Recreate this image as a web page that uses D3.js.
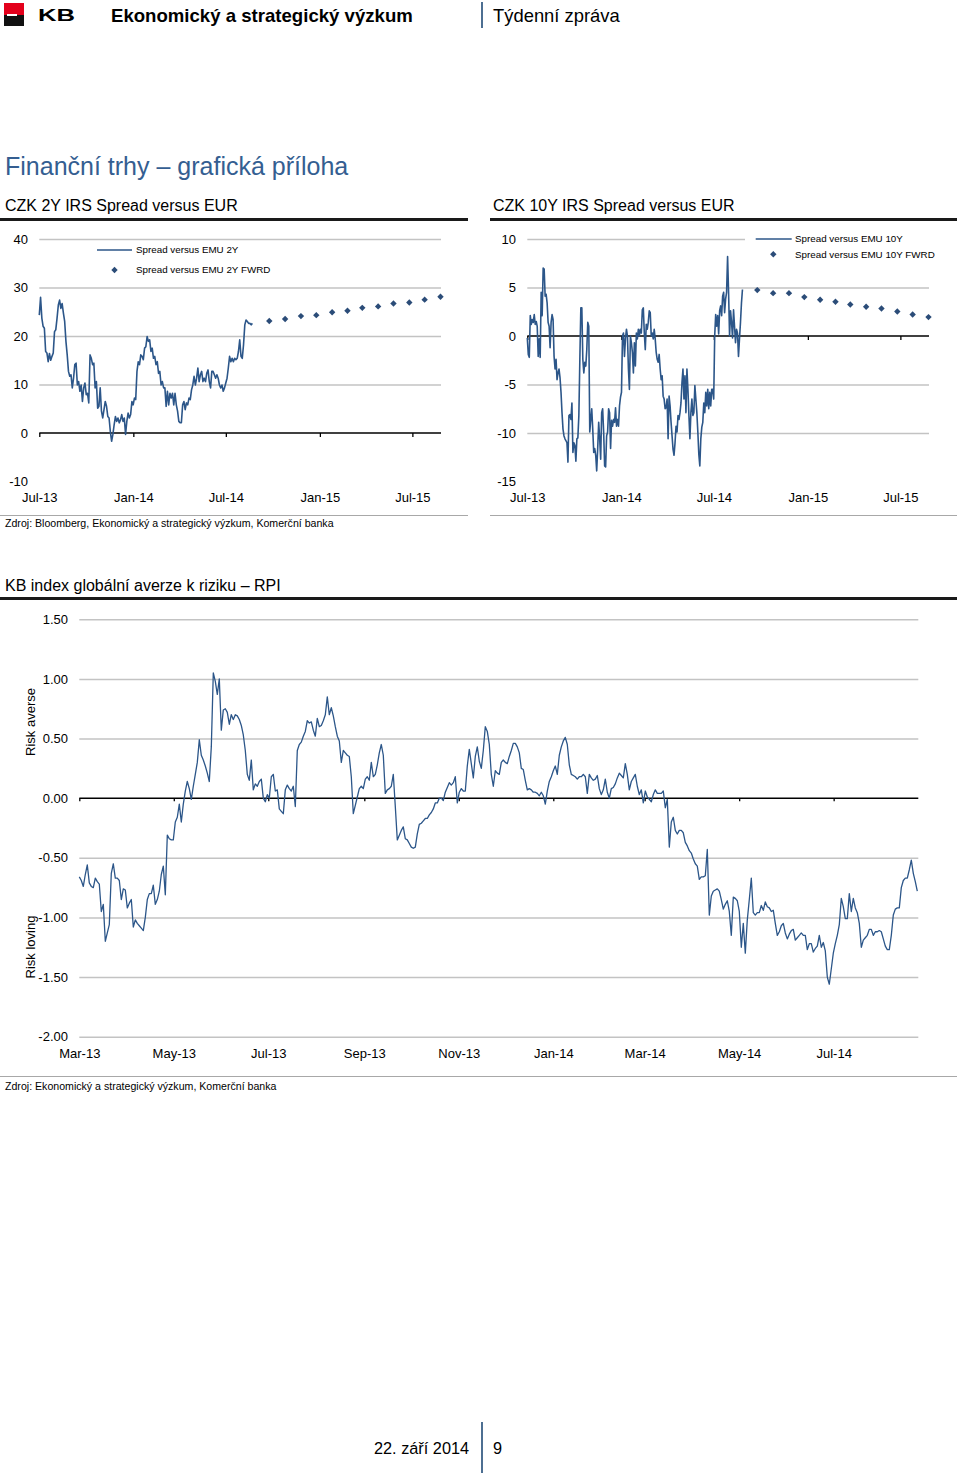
<!DOCTYPE html>
<html><head><meta charset="utf-8">
<script src="https://cdn.jsdelivr.net/npm/d3@7"></script>
<style>
body{margin:0;background:#fff;}
svg{display:block;font-family:"Liberation Sans",Arial,Helvetica,sans-serif;}
</style></head><body>
<svg id="page" width="960" height="1475"></svg>
<script>
// ---------- DATA ----------
const spread2Y = [24.3,28.0,23.7,22.0,21.6,16.8,16.5,14.7,16.4,15.0,
15.8,16.5,20.9,21.3,23.7,26.4,27.4,25.7,26.7,24.7,
23.0,18.9,16.1,12.7,11.7,12.0,9.3,11.3,14.1,14.4,
9.9,10.6,8.6,9.9,6.5,9.3,10.3,7.9,8.2,6.2,
16.1,15.4,14.1,14.4,9.3,10.6,5.1,5.5,9.3,4.5,
3.1,4.8,6.5,5.5,3.4,3.1,0.3,-1.7,-0.3,1.7,
3.4,2.4,3.1,2.1,2.7,3.8,2.4,3.1,-0.3,2.4,
4.1,3.1,3.8,6.5,5.8,7.2,6.9,12.7,14.7,14.1,
16.1,15.8,15.1,17.5,17.8,19.9,18.9,19.2,16.8,17.5,
15.4,15.8,14.1,14.7,12.3,12.7,9.9,10.6,9.3,9.3,
5.5,8.6,5.8,8.2,7.2,8.2,5.8,8.2,5.8,4.5,
2.4,2.1,2.1,5.8,6.5,4.8,6.2,5.8,7.2,6.9,
8.9,9.9,11.7,9.9,11.3,13.4,10.6,12.0,12.7,10.6,
11.3,10.6,12.3,13.0,10.6,9.3,12.7,12.7,12.0,11.3,
12.0,11.3,9.9,9.3,9.9,8.6,9.3,10.3,11.3,13.4,
15.8,14.7,15.4,14.7,15.4,15.1,15.4,16.8,19.2,15.8,
15.4,18.2,22.3,23.3,23.0,22.6,22.6,22.3,22.6];
const spread2YPeriod = ["2013-07-01","2014-08-22"];

const spread10Y = [-0.2,-1.9,-2.2,2.1,1.2,1.7,1.4,2.2,1.2,1.5,1.0,-2.1,-0.3,-2.2,4.5,2.1,7.0,6.9,4.1,4.3,
3.4,1.4,1.0,-1.2,1.4,2.2,1.7,-2.1,-3.4,-2.4,-4.5,-3.8,-3.4,-4.3,-5.8,-7.9,-9.6,-10.3,-10.6,-10.8,
-11.0,-13.0,-8.2,-8.1,-8.6,-6.9,-12.0,-11.0,-11.3,-12.9,-10.6,-10.5,-8.2,-2.4,2.9,2.9,-2.4,-3.8,-2.7,-3.1,
-1.4,1.4,1.0,-9.9,-8.6,-7.5,-9.6,-12.0,-11.6,-12.3,-13.9,-11.6,-8.9,-10.6,-12.7,-7.9,-7.5,-9.9,-13.4,-13.5,
-10.3,-9.9,-7.5,-7.9,-11.6,-8.7,-9.3,-8.6,-8.9,-7.4,-9.3,-8.6,-9.3,-7.2,-6.3,-5.8,0,0.3,-2.1,-0.3,
0.7,0,-3.4,-5.5,0,-0.7,-1.7,-3.8,-0.7,-3.1,0.3,-0.3,0.7,0,0.7,0.3,2.7,2.9,0.3,-1.4,
1.2,0.7,1.4,2.6,2.4,0,0.3,-0.3,0.7,-0.3,-1.7,-2.4,-2.7,-1.9,-3.4,-4.5,-4.1,-6.2,-6.5,-7.5,
-7.4,-6.5,-10.6,-6.2,-7.2,-8.9,-10.3,-11.7,-12.3,-11.0,-9.3,-9.9,-8.2,-8.6,-7.9,-6.9,-4.8,-3.4,-6.5,-4.1,
-7.9,-3.4,-5.5,-8.2,-10.6,-7.9,-6.5,-8.2,-7.9,-5.1,-6.5,-7.9,-9.9,-12.2,-13.4,-10.6,-9.4,-8.9,-6.9,-7.9,
-5.8,-7.2,-5.5,-7.5,-5.8,-7.2,-5.5,-5.5,-6.5,0,2.2,1.0,2.1,0.2,2.6,3.1,2.1,4.1,4.5,2.4,
3.8,4.5,8.2,4.5,0,2.6,1.4,-0.2,2.7,1.0,-0.7,0.7,0.3,-2.1,-0.3,1.4,3.4,4.8];
const spread10YPeriod = ["2013-07-01","2014-08-26"];

const fwrdDates = ["2014-09-24","2014-10-25","2014-11-25","2014-12-25","2015-01-25","2015-02-24",
"2015-03-25","2015-04-25","2015-05-25","2015-06-25","2015-07-25","2015-08-25"];
const fwrd2Y = [23.1,23.5,24.1,24.3,24.9,25.2,25.8,26.1,26.7,26.9,27.5,28.1];
const fwrd10Y = [4.73,4.42,4.42,4.01,3.73,3.53,3.25,3.01,2.84,2.53,2.22,1.95];

const spreadTickDates = ["2013-07-01","2014-01-01","2014-07-01","2015-01-01","2015-07-01"];
const spreadTickLabels = ["Jul-13","Jan-14","Jul-14","Jan-15","Jul-15"];
const spreadDomain = ["2013-07-01","2015-08-26"];
const yTicks2Y = [-10,0,10,20,30,40];
const yTicks10Y = [-15,-10,-5,0,5,10];

const rpiValues = [
-0.66,-0.69,-0.74,-0.64,-0.56,-0.71,-0.74,-0.75,-0.67,-0.70,
-0.72,-0.95,-0.89,-1.20,-1.13,-1.06,-0.63,-0.55,-0.67,-0.67,
-0.69,-0.85,-0.76,-0.77,-0.92,-0.88,-0.85,-1.08,-1.02,-1.05,
-1.07,-1.09,-1.11,-1.00,-0.85,-0.80,-0.80,-0.73,-0.89,-0.85,
-0.78,-0.64,-0.57,-0.81,-0.31,-0.34,-0.35,-0.35,-0.20,-0.16,
-0.05,-0.20,-0.05,0.06,0.14,0.08,-0.01,0.10,0.20,0.30,
0.49,0.36,0.32,0.27,0.21,0.14,0.43,1.05,0.98,0.87,
1.00,0.57,0.74,0.75,0.72,0.62,0.70,0.66,0.70,0.69,
0.66,0.61,0.53,0.40,0.20,0.15,0.32,0.07,0.12,0.10,
0.14,0.16,0.00,-0.03,0.03,0.00,0.18,0.20,0.06,0.07,
-0.09,-0.11,-0.13,0.07,0.11,0.08,0.06,0.10,-0.07,0.40,
0.45,0.47,0.52,0.56,0.65,0.63,
0.64,0.57,0.52,0.67,0.60,0.61,0.65,0.70,0.85,0.70,
0.76,0.69,0.60,0.52,0.48,0.30,0.40,0.38,0.36,0.35,
0.18,-0.13,-0.06,0.01,0.08,0.10,0.08,0.16,0.18,0.15,
0.30,0.18,0.20,0.28,0.38,0.45,0.36,0.04,0.07,0.08,
0.10,0.20,-0.07,-0.35,-0.31,-0.27,-0.24,-0.34,-0.35,-0.38,
-0.41,-0.42,-0.41,-0.30,-0.22,-0.21,-0.19,-0.17,-0.17,-0.14,
-0.12,-0.09,-0.04,-0.04,0.00,0.00,-0.02,0.05,0.09,0.13,
0.11,0.13,0.18,-0.04,0.05,0.08,0.06,0.06,0.27,0.41,
0.29,0.17,0.35,0.43,0.31,0.25,0.40,0.60,0.56,0.45,
0.20,0.10,0.23,0.21,0.20,0.30,0.32,0.30,0.29,0.35,
0.40,0.46,0.46,0.43,0.38,0.25,0.24,0.15,0.07,0.08,
0.07,0.05,0.05,0.04,0.02,0.05,0.02,-0.05,0.06,0.14,
0.18,0.23,0.27,0.20,0.36,0.43,0.48,0.51,0.45,0.28,
0.20,0.19,0.18,0.16,0.18,0.18,0.20,0.18,0.04,0.20,
0.17,0.15,0.16,0.19,0.08,0.03,0.07,0.16,0.05,0.00,
0.08,0.09,0.12,0.17,0.21,
0.19,0.17,0.29,0.20,0.07,0.14,0.17,0.20,0.10,0.03,
0.07,-0.04,0.06,0.01,-0.01,-0.03,0.03,0.07,0.04,0.04,
0.04,0.06,-0.08,-0.01,-0.41,-0.20,-0.16,-0.27,-0.30,-0.27,
-0.27,-0.29,-0.37,-0.40,-0.44,-0.46,-0.51,-0.55,-0.57,-0.68,
-0.66,-0.66,-0.65,-0.43,-0.98,-0.82,-0.78,-0.77,-0.76,-0.78,
-0.85,-0.93,-0.89,-0.86,-0.95,-1.15,-0.83,-0.84,-0.86,-0.95,
-1.25,-1.05,-1.30,-1.02,-0.85,-0.67,-0.96,-0.98,-0.96,-0.96,
-0.90,-0.94,-0.87,-0.91,-0.92,-0.95,-0.94,-1.05,-1.15,-1.12,
-1.07,-1.05,-1.13,-1.18,-1.14,-1.11,-1.10,-1.19,-1.17,-1.15,
-1.13,-1.15,-1.15,-1.27,-1.22,-1.22,-1.29,-1.26,-1.24,-1.15,
-1.25,-1.21,-1.28,-1.50,-1.56,-1.43,-1.30,-1.22,-1.15,-1.06,
-0.84,-0.91,-1.01,-1.01,-0.80,-0.95,-0.84,-0.92,-0.96,-1.05,
-1.25,-1.19,-1.17,-1.15,-1.10,-1.10,-1.15,-1.12,-1.12,-1.11,
-1.12,-1.18,-1.24,-1.27,-1.27,-1.15,-0.98,-0.93,-0.92,-0.92,
-0.75,-0.69,-0.67,-0.67,-0.60,-0.52,-0.63,-0.70,-0.78];
const rpiPeriod = ["2013-03-01","2014-08-24"];
const rpiTickDates = ["2013-03-01","2013-05-01","2013-07-01","2013-09-01","2013-11-01","2014-01-01","2014-03-01","2014-05-01","2014-07-01"];
const rpiTickLabels = ["Mar-13","May-13","Jul-13","Sep-13","Nov-13","Jan-14","Mar-14","May-14","Jul-14"];
const rpiYTicks = [-2.0,-1.5,-1.0,-0.5,0.0,0.5,1.0,1.5];

// ---------- DRAW ----------
const parse = d3.utcParse("%Y-%m-%d");
const loc = d3.formatLocale({decimal:".", thousands:",", grouping:[3], currency:["",""], minus:"-"});
const svg = d3.select("#page");
const LINE = "#2c5689", MARK = "#2b4c78", GRID = "#c3c3c3";

function seriesPoints(vals, period){
  const t = d3.scaleLinear().domain([0, vals.length-1]).range([+parse(period[0]), +parse(period[1])]);
  return vals.map((v,i)=>({d:new Date(t(i)), v}));
}

// header
const hdr = svg.append("g");
hdr.append("rect").attr("x",4).attr("y",3).attr("width",20).attr("height",12).attr("fill","#e3001b");
hdr.append("rect").attr("x",4).attr("y",15).attr("width",20).attr("height",11).attr("fill","#111");
hdr.append("rect").attr("x",7).attr("y",14).attr("width",10).attr("height",2).attr("fill","#fff");
hdr.append("text").attr("x",38).attr("y",21).attr("font-size",16).attr("font-weight","bold")
  .attr("textLength",37).attr("lengthAdjust","spacingAndGlyphs").text("KB");
hdr.append("text").attr("x",111).attr("y",22).attr("font-size",18.6).attr("font-weight","bold").text("Ekonomický a strategický výzkum");
hdr.append("line").attr("x1",482).attr("x2",482).attr("y1",2).attr("y2",28).attr("stroke","#4d6f92").attr("stroke-width",2);
hdr.append("text").attr("x",493).attr("y",22).attr("font-size",18.4).text("Týdenní zpráva");

svg.append("text").attr("x",5).attr("y",175).attr("font-size",25).attr("fill","#345e91").text("Finanční trhy – grafická příloha");

function titleBlock(x, y, text, x1, x2, ruleY){
  svg.append("text").attr("x",x).attr("y",y).attr("font-size",16).attr("fill","#000").text(text);
  svg.append("line").attr("x1",x1).attr("x2",x2).attr("y1",ruleY).attr("y2",ruleY).attr("stroke","#1a1a1a").attr("stroke-width",3);
}
titleBlock(5, 211, "CZK 2Y IRS Spread versus EUR", 0, 468, 219.5);
titleBlock(493, 211, "CZK 10Y IRS Spread versus EUR", 490, 957, 219.5);

function smallChart(cfg){
  const g = svg.append("g");
  const x = d3.scaleUtc().domain(spreadDomain.map(parse)).range([cfg.x0, cfg.x1]);
  const y = d3.scaleLinear().domain([cfg.yTicks[0], cfg.yTicks[cfg.yTicks.length-1]]).range([481.5, 239]);
  const ya = g.append("g").attr("transform",`translate(${cfg.x0},0)`)
    .call(d3.axisLeft(y).tickValues(cfg.yTicks).tickSize(-(cfg.x1-cfg.x0)).tickPadding(cfg.x0-cfg.labelX).tickFormat(loc.format("d")));
  ya.select(".domain").remove();
  ya.selectAll(".tick line").attr("stroke",GRID).attr("stroke-width",1.4)
    .attr("display", d => (d===0 || d===cfg.yTicks[0]) ? "none" : null);
  ya.selectAll(".tick text").attr("font-size",13).attr("fill","#000").attr("font-family",null);
  if (cfg.legendMask) g.append("rect").attr("x",cfg.legendMask[0]).attr("y",cfg.legendMask[1]).attr("width",cfg.legendMask[2]).attr("height",cfg.legendMask[3]).attr("fill","#fff");
  g.append("line").attr("x1",cfg.x0).attr("x2",cfg.x1).attr("y1",y(0)).attr("y2",y(0)).attr("stroke","#000").attr("stroke-width",1.6);
  const xt = g.append("g").attr("transform",`translate(0,${y(0)})`)
    .call(d3.axisBottom(x).tickValues(spreadTickDates.map(parse)).tickSize(4).tickFormat(""));
  xt.select(".domain").remove();
  xt.selectAll(".tick line").attr("stroke","#000").attr("stroke-width",1.3);
  const xl = g.append("g").attr("transform",`translate(0,497)`)
    .call(d3.axisBottom(x).tickValues(spreadTickDates.map(parse)).tickSize(0).tickPadding(0).tickFormat((d,i)=>spreadTickLabels[i]));
  xl.select(".domain").remove();
  xl.selectAll(".tick text").attr("dy","0.35em").attr("y",0).attr("font-size",13).attr("fill","#000").attr("font-family",null);
  const pts = seriesPoints(cfg.values, cfg.period);
  g.append("path").datum(pts).attr("fill","none").attr("stroke",LINE).attr("stroke-width",1.6).attr("stroke-linejoin","round")
    .attr("d", d3.line().x(p=>x(p.d)).y(p=>y(p.v)));
  const diamond = "M0,-3.2L3.2,0L0,3.2L-3.2,0Z";
  g.selectAll("path.fw").data(fwrdDates.map((d,i)=>({d:parse(d), v:cfg.fwrd[i]}))).enter().append("path")
    .attr("class","fw").attr("d",diamond).attr("fill",MARK)
    .attr("transform",p=>`translate(${x(p.d)},${y(p.v)})`);
  const L = cfg.legend;
  g.append("line").attr("x1",L.lx1).attr("x2",L.lx2).attr("y1",L.y1).attr("y2",L.y1).attr("stroke",LINE).attr("stroke-width",1.6);
  g.append("text").attr("x",L.tx).attr("y",L.y1).attr("dy","0.35em").attr("font-size",9.8).text(L.t1);
  g.append("path").attr("d",diamond).attr("fill",MARK).attr("transform",`translate(${L.mx},${L.y2})`);
  g.append("text").attr("x",L.tx).attr("y",L.y2).attr("dy","0.35em").attr("font-size",9.8).text(L.t2);
}

smallChart({x0:39.3, x1:441, labelX:28, yTicks:yTicks2Y, values:spread2Y, period:spread2YPeriod, fwrd:fwrd2Y,
  legend:{lx1:97, lx2:132, y1:250, tx:136, mx:114.5, y2:270, t1:"Spread versus EMU 2Y", t2:"Spread versus EMU 2Y FWRD"}});
smallChart({x0:527.3, x1:929, labelX:516, yTicks:yTicks10Y, values:spread10Y, period:spread10YPeriod, fwrd:fwrd10Y,
  legendMask:[745,231,215,31],
  legend:{lx1:755.7, lx2:791.7, y1:239, tx:795, mx:773.3, y2:254.3, t1:"Spread versus EMU 10Y", t2:"Spread versus EMU 10Y FWRD"}});

svg.append("line").attr("x1",0).attr("x2",468).attr("y1",515.5).attr("y2",515.5).attr("stroke","#a8a8a8").attr("stroke-width",1.2);
svg.append("line").attr("x1",490).attr("x2",957).attr("y1",515.5).attr("y2",515.5).attr("stroke","#a8a8a8").attr("stroke-width",1.2);
svg.append("text").attr("x",5).attr("y",523).attr("dy","0.35em").attr("font-size",10.6).text("Zdroj: Bloomberg, Ekonomický a strategický výzkum, Komerční banka");

// RPI
titleBlock(5, 591, "KB index globální averze k riziku – RPI", 0, 957, 598.5);
(function(){
  const g = svg.append("g");
  const x0 = 79.3, x1 = 918.3;
  const x = d3.scaleUtc().domain(rpiPeriod.map(parse)).range([x0, 917.3]);
  const y = d3.scaleLinear().domain([-2, 1.5]).range([1036.7, 619.3]);
  const ya = g.append("g").attr("transform",`translate(${x0},0)`)
    .call(d3.axisLeft(y).tickValues(rpiYTicks).tickSize(-(x1-x0)).tickPadding(x0-68).tickFormat(loc.format(".2f")));
  ya.select(".domain").remove();
  ya.selectAll(".tick line").attr("stroke",GRID).attr("stroke-width",1.4).attr("display", d => d===0 ? "none" : null);
  ya.selectAll(".tick text").attr("font-size",13).attr("fill","#000").attr("font-family",null);
  g.append("line").attr("x1",x0).attr("x2",x1).attr("y1",y(0)).attr("y2",y(0)).attr("stroke","#000").attr("stroke-width",1.6);
  const xt = g.append("g").attr("transform",`translate(0,${y(0)})`)
    .call(d3.axisBottom(x).tickValues(rpiTickDates.map(parse)).tickSize(3).tickFormat(""));
  xt.select(".domain").remove();
  xt.selectAll(".tick line").attr("stroke","#000").attr("stroke-width",1.3);
  const xl = g.append("g").attr("transform",`translate(0,1053)`)
    .call(d3.axisBottom(x).tickValues(rpiTickDates.map(parse)).tickSize(0).tickPadding(0).tickFormat((d,i)=>rpiTickLabels[i]));
  xl.select(".domain").remove();
  xl.selectAll(".tick text").attr("dy","0.35em").attr("y",0).attr("font-size",13).attr("fill","#000").attr("font-family",null);
  const pts = seriesPoints(rpiValues, rpiPeriod);
  g.append("path").datum(pts).attr("fill","none").attr("stroke",LINE).attr("stroke-width",1.3).attr("stroke-linejoin","round")
    .attr("d", d3.line().x(p=>x(p.d)).y(p=>y(p.v)));
  g.append("text").attr("transform","translate(30,722) rotate(-90)").attr("text-anchor","middle").attr("dy","0.35em").attr("font-size",13).text("Risk averse");
  g.append("text").attr("transform","translate(30,947) rotate(-90)").attr("text-anchor","middle").attr("dy","0.35em").attr("font-size",13).text("Risk loving");
})();
svg.append("line").attr("x1",0).attr("x2",957).attr("y1",1076.5).attr("y2",1076.5).attr("stroke","#a8a8a8").attr("stroke-width",1.2);
svg.append("text").attr("x",5).attr("y",1086).attr("dy","0.35em").attr("font-size",10.6).text("Zdroj: Ekonomický a strategický výzkum, Komerční banka");

// footer
svg.append("text").attr("x",374).attr("y",1454).attr("font-size",16.3).text("22. září 2014");
svg.append("line").attr("x1",482).attr("x2",482).attr("y1",1422).attr("y2",1473).attr("stroke","#4d6f92").attr("stroke-width",2);
svg.append("text").attr("x",493).attr("y",1454).attr("font-size",16.3).text("9");
</script>
</body></html>
